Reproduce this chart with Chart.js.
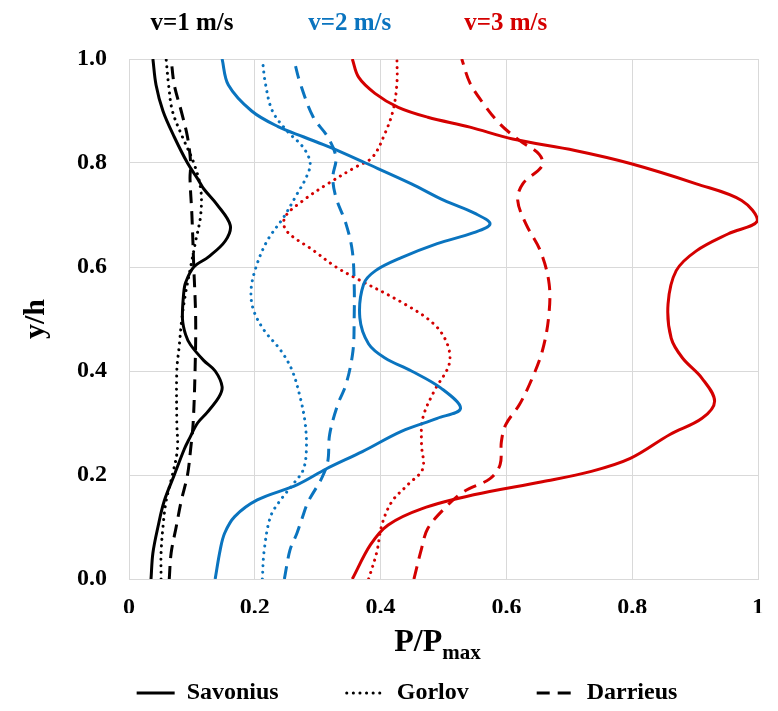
<!DOCTYPE html>
<html><head><meta charset="utf-8">
<script src="https://cdn.jsdelivr.net/npm/chart.js@4/dist/chart.umd.min.js"></script>
<style>html,body{margin:0;padding:0;background:#fff;}canvas{display:block;}</style>
</head><body>
<canvas id="c" width="778" height="711"></canvas>
<script>
// ---------- data (P/Pmax along y/h) ----------
const xTickValues = [0, 0.2, 0.4, 0.6, 0.8, 1];
const xTickLabels = ['0', '0.2', '0.4', '0.6', '0.8', '1'];
const yTickValues = [0, 0.2, 0.4, 0.6, 0.8, 1];
const yTickLabels = ['0.0', '0.2', '0.4', '0.6', '0.8', '1.0'];
const speedLabels = ['v=1 m/s', 'v=2 m/s', 'v=3 m/s'];
const typeNames = ['Savonius', 'Gorlov', 'Darrieus'];

// v = 1 m/s
const sav1Y = [0, 0.05, 0.1, 0.15, 0.2, 0.25, 0.27, 0.3, 0.32, 0.35, 0.37, 0.4, 0.42, 0.45, 0.47, 0.5, 0.55, 0.57, 0.6, 0.62, 0.65, 0.68, 0.72, 0.75, 0.77, 0.8, 0.85, 0.9, 0.95, 1.0];
const sav1X = [0.035, 0.038, 0.046, 0.056, 0.072, 0.088, 0.096, 0.109, 0.124, 0.143, 0.148, 0.137, 0.119, 0.098, 0.090, 0.085, 0.087, 0.090, 0.103, 0.127, 0.153, 0.161, 0.140, 0.119, 0.109, 0.093, 0.072, 0.054, 0.043, 0.038];
const gor1Y = [0, 0.05, 0.1, 0.15, 0.2, 0.25, 0.3, 0.4, 0.45, 0.5, 0.55, 0.6, 0.65, 0.7, 0.75, 0.8, 0.85, 0.9, 0.95, 1.0];
const gor1X = [0.051, 0.051, 0.054, 0.059, 0.069, 0.077, 0.076, 0.076, 0.080, 0.084, 0.090, 0.098, 0.106, 0.114, 0.114, 0.103, 0.085, 0.069, 0.063, 0.059];
const dar1Y = [0, 0.05, 0.1, 0.15, 0.2, 0.25, 0.3, 0.4, 0.5, 0.6, 0.7, 0.77, 0.8, 0.85, 0.9, 0.95, 1.0];
const dar1X = [0.064, 0.067, 0.075, 0.083, 0.093, 0.098, 0.102, 0.105, 0.106, 0.103, 0.100, 0.097, 0.098, 0.093, 0.083, 0.072, 0.067];

// v = 2 m/s
const sav2Y = [0, 0.056, 0.088, 0.12, 0.152, 0.181, 0.212, 0.245, 0.284, 0.309, 0.328, 0.367, 0.4, 0.425, 0.452, 0.502, 0.567, 0.593, 0.618, 0.645, 0.666, 0.683, 0.703, 0.728, 0.76, 0.8, 0.83, 0.85, 0.87, 0.9, 0.95, 1.0];
const sav2X = [0.137, 0.145, 0.152, 0.168, 0.204, 0.267, 0.314, 0.371, 0.433, 0.490, 0.527, 0.496, 0.449, 0.407, 0.381, 0.367, 0.373, 0.392, 0.433, 0.490, 0.548, 0.574, 0.550, 0.501, 0.449, 0.376, 0.320, 0.278, 0.237, 0.195, 0.158, 0.148];
const gor2Y = [0, 0.056, 0.12, 0.152, 0.184, 0.21, 0.248, 0.3, 0.35, 0.402, 0.44, 0.478, 0.517, 0.555, 0.6, 0.651, 0.696, 0.74, 0.773, 0.8, 0.83, 0.862, 0.9, 0.952, 1.0];
const gor2X = [0.212, 0.215, 0.225, 0.241, 0.262, 0.277, 0.282, 0.280, 0.272, 0.259, 0.241, 0.215, 0.198, 0.194, 0.202, 0.220, 0.246, 0.267, 0.282, 0.288, 0.277, 0.251, 0.228, 0.217, 0.212];
const dar2Y = [0, 0.056, 0.088, 0.116, 0.149, 0.193, 0.226, 0.278, 0.336, 0.374, 0.438, 0.502, 0.567, 0.631, 0.683, 0.734, 0.772, 0.811, 0.85, 0.888, 0.954, 1.0];
const dar2X = [0.247, 0.256, 0.267, 0.275, 0.285, 0.306, 0.316, 0.319, 0.332, 0.345, 0.356, 0.358, 0.358, 0.355, 0.345, 0.329, 0.324, 0.329, 0.316, 0.293, 0.272, 0.262];

// v = 3 m/s
const sav3Y = [0, 0.066, 0.104, 0.135, 0.162, 0.187, 0.207, 0.232, 0.278, 0.309, 0.342, 0.386, 0.425, 0.463, 0.529, 0.593, 0.631, 0.664, 0.689, 0.728, 0.76, 0.799, 0.824, 0.846, 0.869, 0.888, 0.907, 0.934, 0.965, 1.0];
const sav3X = [0.355, 0.384, 0.412, 0.465, 0.548, 0.657, 0.735, 0.797, 0.860, 0.911, 0.931, 0.911, 0.880, 0.862, 0.857, 0.870, 0.902, 0.953, 0.999, 0.974, 0.902, 0.797, 0.709, 0.610, 0.542, 0.475, 0.428, 0.391, 0.365, 0.355];
const gor3Y = [0, 0.052, 0.104, 0.149, 0.181, 0.212, 0.259, 0.309, 0.361, 0.413, 0.452, 0.49, 0.529, 0.579, 0.6, 0.632, 0.67, 0.696, 0.728, 0.76, 0.792, 0.811, 0.857, 0.902, 0.954, 1.0];
const gor3X = [0.381, 0.394, 0.402, 0.418, 0.443, 0.467, 0.465, 0.467, 0.485, 0.509, 0.506, 0.485, 0.438, 0.360, 0.329, 0.293, 0.250, 0.248, 0.277, 0.316, 0.360, 0.387, 0.407, 0.420, 0.426, 0.426];
const dar3Y = [0, 0.058, 0.097, 0.135, 0.168, 0.193, 0.22, 0.264, 0.297, 0.336, 0.386, 0.438, 0.502, 0.567, 0.631, 0.683, 0.728, 0.76, 0.795, 0.817, 0.844, 0.876, 0.915, 0.954, 1.0];
const dar3X = [0.453, 0.465, 0.475, 0.501, 0.532, 0.574, 0.590, 0.592, 0.599, 0.621, 0.641, 0.657, 0.667, 0.668, 0.654, 0.631, 0.618, 0.626, 0.657, 0.652, 0.620, 0.589, 0.563, 0.542, 0.529];

// ---------- styling ----------
const FONT = "'Liberation Serif', 'Times New Roman', serif";
const BLACK = '#000000', BLUE = '#0A74BF', RED = '#D40000';
const speedColors = [BLACK, BLUE, RED];
const DASH = { solid: [], dotted: [0.1, 6.5], dashed: [13, 8] };
const typeDash = [DASH.solid, DASH.dotted, DASH.dashed];
const typeCap = ['butt', 'round', 'butt'];
const GRID = '#D9D9D9';

function pts(xs, ys) { return xs.map((x, i) => ({ x: x, y: ys[i] })); }
function ds(label, xs, ys, color, t) {
  return {
    label: label, data: pts(xs, ys), borderColor: color, backgroundColor: color,
    borderWidth: 3, borderDash: typeDash[t], borderCapStyle: typeCap[t],
    pointRadius: 0, pointHoverRadius: 0, showLine: true, tension: 0.35, fill: false
  };
}

const datasets = [
  ds('Savonius v=1', sav1X, sav1Y, BLACK, 0),
  ds('Gorlov v=1', gor1X, gor1Y, BLACK, 1),
  ds('Darrieus v=1', dar1X, dar1Y, BLACK, 2),
  ds('Savonius v=2', sav2X, sav2Y, BLUE, 0),
  ds('Gorlov v=2', gor2X, gor2Y, BLUE, 1),
  ds('Darrieus v=2', dar2X, dar2Y, BLUE, 2),
  ds('Savonius v=3', sav3X, sav3Y, RED, 0),
  ds('Gorlov v=3', gor3X, gor3Y, RED, 1),
  ds('Darrieus v=3', dar3X, dar3Y, RED, 2)
];

const annot = {
  id: 'annot',
  afterDraw(chart) {
    const ctx = chart.ctx, xs = chart.scales.x, ca = chart.chartArea;
    const speedPos = [0.100, 0.351, 0.599];
    ctx.save();
    ctx.font = 'bold 25px ' + FONT;
    ctx.textAlign = 'center'; ctx.textBaseline = 'middle';
    speedLabels.forEach((t, i) => {
      ctx.fillStyle = speedColors[i];
      ctx.fillText(t, xs.getPixelForValue(speedPos[i]), 24);
    });
    // x-axis title P/Pmax
    ctx.fillStyle = '#000';
    const main = 'P/P', sub = 'max';
    ctx.font = 'bold 32px ' + FONT; const w1 = ctx.measureText(main).width;
    ctx.font = 'bold 21px ' + FONT; const w2 = ctx.measureText(sub).width;
    const cx = (ca.left + ca.right) / 2 - 6;
    const x0 = cx - (w1 + w2) / 2, yb = 651;
    ctx.textAlign = 'left'; ctx.textBaseline = 'alphabetic';
    ctx.font = 'bold 32px ' + FONT; ctx.fillText(main, x0, yb);
    ctx.font = 'bold 21px ' + FONT; ctx.fillText(sub, x0 + w1, yb + 8);
    ctx.restore();
  }
};

new Chart(document.getElementById('c'), {
  type: 'scatter',
  data: { datasets: datasets },
  plugins: [annot],
  options: {
    responsive: false, animation: false, devicePixelRatio: 1,
    layout: { padding: { top: 59, right: 8, bottom: -4, left: 44 } },
    plugins: {
      tooltip: { enabled: false },
      title: { display: false },
      legend: {
        display: true, position: 'bottom', align: 'center',
        labels: {
          usePointStyle: true, pointStyleWidth: 38, padding: 68, color: '#000',
          font: { family: FONT, size: 24, weight: 'bold' },
          generateLabels: () => typeNames.map((t, i) => ({
            text: t, fillStyle: BLACK, strokeStyle: BLACK, lineWidth: 3,
            lineDash: typeDash[i], lineCap: typeCap[i], pointStyle: 'line',
            hidden: false, fontColor: '#000', datasetIndex: i
          }))
        }
      }
    },
    scales: {
      x: {
        type: 'linear', min: 0, max: 1,
        afterFit: s => { s.height = 34; },
        afterBuildTicks: s => { s.ticks = xTickValues.map(v => ({ value: v })); },
        grid: { color: GRID, lineWidth: 1, drawTicks: false },
        border: { display: true, color: GRID },
        ticks: {
          padding: 14, color: '#000', maxRotation: 0,
          font: { family: FONT, size: 24, weight: 'bold' },
          callback: (v, i) => xTickLabels[i]
        },
        title: { display: false }
      },
      y: {
        type: 'linear', min: 0, max: 1,
        afterFit: s => { s.width = 85; },
        afterBuildTicks: s => { s.ticks = yTickValues.map(v => ({ value: v })); },
        grid: { color: GRID, lineWidth: 1, drawTicks: false },
        border: { display: true, color: GRID },
        ticks: {
          padding: 22, color: '#000',
          font: { family: FONT, size: 24, weight: 'bold' },
          callback: (v, i) => yTickLabels[i]
        },
        title: {
          display: true, text: 'y/h', color: '#000',
          font: { family: FONT, size: 30, weight: 'bold' },
          padding: { top: -26, bottom: 0 }
        }
      }
    }
  }
});
</script>
</body></html>
